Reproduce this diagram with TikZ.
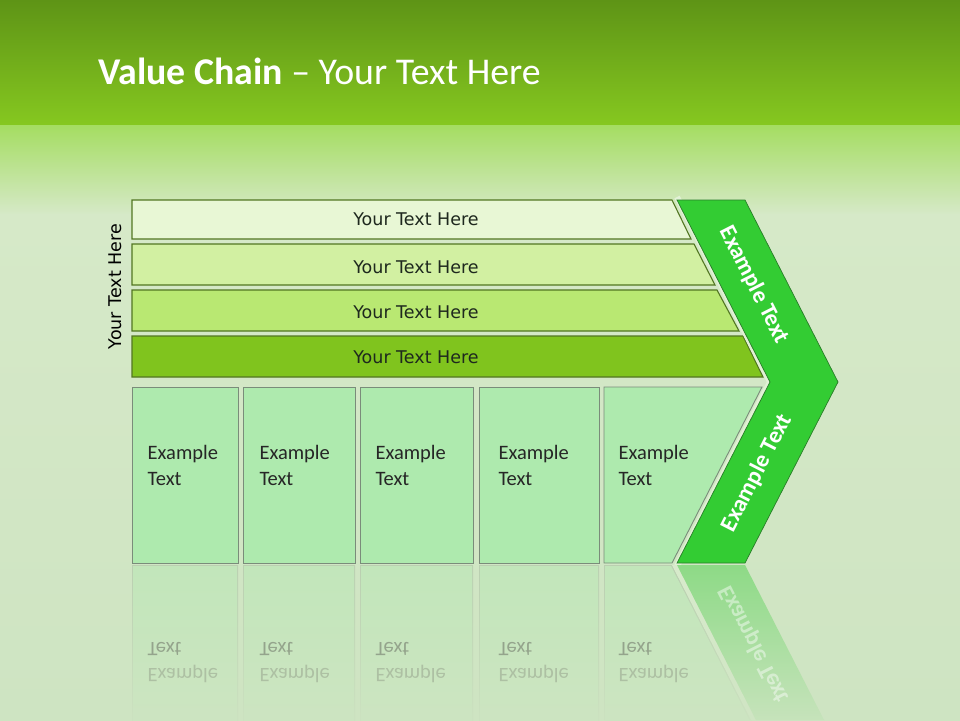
\documentclass[tikz,border=0pt]{standalone}
\usepackage{fontspec}
\setmainfont{Carlito}
\newfontfamily\dejavu{DejaVu Sans}
\definecolor{topdark}{RGB}{94,148,22}
\definecolor{topgreen}{RGB}{134,200,32}
\definecolor{fadestart}{RGB}{165,221,98}
\definecolor{bgl}{RGB}{206,228,194}
\definecolor{bgll}{RGB}{214,233,200}
\definecolor{bglight}{RGB}{218,237,204}
\definecolor{barA}{RGB}{232,247,213}
\definecolor{barB}{RGB}{210,240,162}
\definecolor{barC}{RGB}{185,232,114}
\definecolor{barD}{RGB}{128,196,30}
\definecolor{barline}{RGB}{82,118,34}
\definecolor{boxfill}{RGB}{174,234,174}
\definecolor{boxline}{RGB}{122,140,122}
\definecolor{chev}{RGB}{51,204,51}
\definecolor{chevline}{RGB}{40,125,40}
\definecolor{halo}{RGB}{226,241,214}
\definecolor{textdark}{RGB}{30,40,30}
\colorlet{refline}{boxline!35!bgl}
\colorlet{refbox}{boxfill!55!bgl}
\colorlet{refhalo}{halo!70!bgl}
\colorlet{refchev}{chev!60!bgl}
\pgfdeclareverticalshading{fadeline}{100bp}{color(0bp)=(bgl); color(18bp)=(bgl); color(100bp)=(refline)}
\pgfdeclareverticalshading{fadebox}{100bp}{color(0bp)=(bgl); color(18bp)=(bgl); color(100bp)=(refbox)}
\pgfdeclareverticalshading{fadehalo}{100bp}{color(0bp)=(bgl); color(18bp)=(bgl); color(100bp)=(refhalo)}
\pgfdeclareverticalshading{fadechev}{100bp}{color(0bp)=(bgl); color(18bp)=(bgl); color(100bp)=(refchev)}
\tikzset{
  bar/.style={draw=barline,line width=1.1pt},
  bartext/.style={font=\dejavu\fontsize{17.5}{20}\selectfont,text=textdark,inner sep=0pt,anchor=base},
  boxshape/.style={draw=boxline,line width=0.9pt,fill=boxfill},
  boxtext/.style={font=\fontsize{20.5}{25.7}\selectfont,text=black!85,inner sep=0pt,anchor=base west},
  chevshape/.style={fill=chev,draw=chevline,line width=0.7pt},
  chevhalo/.style={draw=halo,line width=6pt,line join=miter},
  chevtext/.style={font=\bfseries\fontsize{23.5}{25}\selectfont,text=white,inner sep=0pt},
  reftext/.style={font=\fontsize{20.5}{25.7}\selectfont,inner sep=0pt,anchor=base west},
}
\newcommand{\twoline}[2]{\vtop{\hbox{#1}\hbox{#2}}}
\begin{document}
\begin{tikzpicture}[x=1pt,y=-1pt]
\useasboundingbox (0,0) rectangle (960,720);
% background
\fill[top color=topdark,bottom color=topgreen] (0,0) rectangle (960,126);
\fill[top color=fadestart,bottom color=bgll] (0,125.5) rectangle (960,215);
\fill[top color=bgll,bottom color=bgl] (0,214.5) rectangle (960,720);

% title
\node[anchor=base west,text=white,font=\fontsize{37.8}{40}\selectfont,inner sep=0pt] (title) at (98,84) {\textbf{Value Chain} – Your Text Here};

% bars
\path[bar,fill=barA] (132,200) -- (672,200) -- (691,239) -- (132,239) -- cycle;
\path[bar,fill=barB] (132,244) -- (694,244) -- (715,285) -- (132,285) -- cycle;
\path[bar,fill=barC] (132,290) -- (717,290) -- (739,331) -- (132,331) -- cycle;
\path[bar,fill=barD] (132,336) -- (743,336) -- (763,377) -- (132,377) -- cycle;
\node[bartext] (t1) at (416,225.5) {Your Text Here};
\node[bartext] (t2) at (416,273.3) {Your Text Here};
\node[bartext] (t3) at (416,318.3) {Your Text Here};
\node[bartext] (t4) at (416,363.3) {Your Text Here};
\node[font=\dejavu\fontsize{17.5}{20}\selectfont,text=black,inner sep=0pt,rotate=90] (side) at (115.5,286.5) {Your Text Here};

% chevron
\path[chevhalo] (677,197) -- (770,382) -- (677,566);
\path[chevshape] (677,200) -- (745,200) -- (838,382) -- (745,563) -- (677,563) -- (770,382) -- cycle;
\node[chevtext,rotate=-63] (c1) at (754,285) {Example Text};
\node[chevtext,rotate=63] (c2) at (757,473) {Example Text};

% boxes
\path[boxshape] (132,387) rectangle (238,563);
\path[boxshape] (243,387) rectangle (355,563);
\path[boxshape] (360,387) rectangle (473,563);
\path[boxshape] (479,387) rectangle (599,563);
\path[boxshape] (604,387) -- (762,387) -- (672,563) -- (604,563) -- cycle;
\node[boxtext] (b1) at (147.5,459.5) {\twoline{Example}{Text}};
\node[boxtext] (b2) at (259.3,459.5) {\twoline{Example}{Text}};
\node[boxtext] (b3) at (375.3,459.5) {\twoline{Example}{Text}};
\node[boxtext] (b4) at (498.3,459.5) {\twoline{Example}{Text}};
\node[boxtext] (b5) at (618.3,459.5) {\twoline{Example}{Text}};

% reflections (shapes)
\foreach \xa/\xb in {132/238,243/355,360/473,479/599}{
  \shade[shading=fadeline] (\xa,565) rectangle (\xb,720);
  \shade[shading=fadebox] (\xa+1,566) rectangle (\xb-1,720);
}
\shade[shading=fadeline] (604,565) -- (672,565) -- (751,720) -- (604,720) -- cycle;
\shade[shading=fadebox] (605,566) -- (671,566) -- (749.5,720) -- (605,720) -- cycle;
\shade[shading=fadehalo] (672,565) -- (677,565) -- (756,720) -- (751,720) -- cycle;
\shade[shading=fadechev] (677,565) -- (745,565) -- (824,720) -- (756,720) -- cycle;

% reflections (texts)
\begin{scope}[yshift=-1128pt,yscale=-1,transform shape]
  \node[reftext] (r1) at (147.5,459.5) {\twoline{\color{black!16!bgl}Example}{\color{black!28!bgl}Text}};
  \node[reftext] (r2) at (259.3,459.5) {\twoline{\color{black!16!bgl}Example}{\color{black!28!bgl}Text}};
  \node[reftext] (r3) at (375.3,459.5) {\twoline{\color{black!16!bgl}Example}{\color{black!28!bgl}Text}};
  \node[reftext] (r4) at (498.3,459.5) {\twoline{\color{black!16!bgl}Example}{\color{black!28!bgl}Text}};
  \node[reftext] (r5) at (618.3,459.5) {\twoline{\color{black!16!bgl}Example}{\color{black!28!bgl}Text}};
  \node[chevtext,rotate=63,opacity=0.45] (rc) at (754,484) {Example Text};
\end{scope}
\end{tikzpicture}
\end{document}
